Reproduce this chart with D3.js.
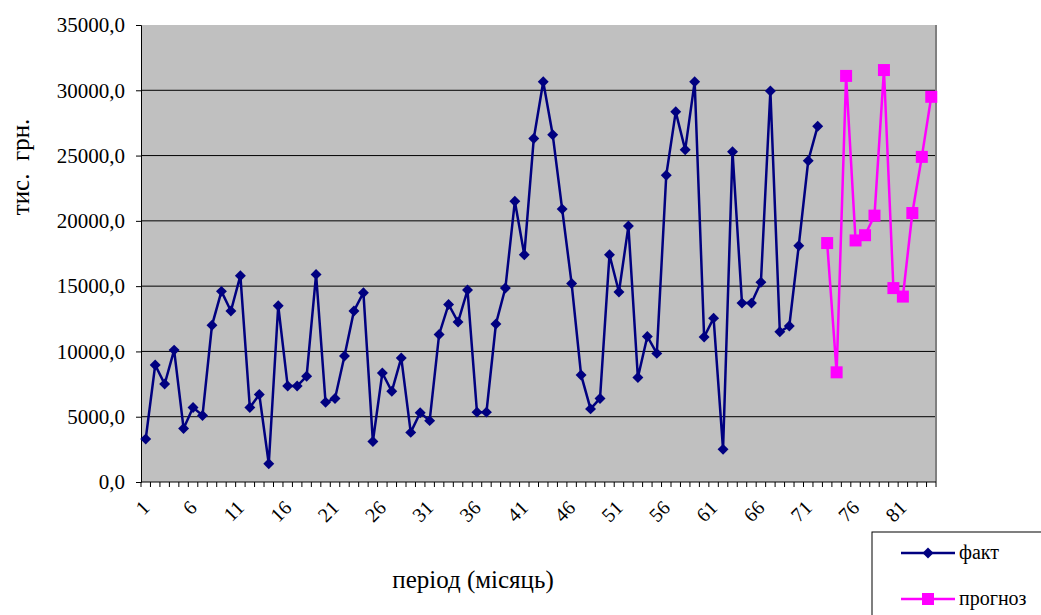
<!DOCTYPE html>
<html>
<head>
<meta charset="utf-8">
<script src="https://cdn.jsdelivr.net/npm/d3@7"></script>
<style>
  body { margin: 0; background: #fff; }
</style>
</head>
<body>
<div id="chart"></div>
<script>
// Data
const factValues = [
  3300, 8960, 7500, 10100, 4100, 5700, 5100, 12000, 14600, 13100,
  15800, 5700, 6700, 1400, 13500, 7350, 7350, 8100, 15900, 6100,
  6400, 9650, 13100, 14500, 3100, 8350, 6950, 9500, 3800, 5300,
  4700, 11300, 13600, 12250, 14700, 5350, 5350, 12100, 14850, 21500,
  17400, 26300, 30650, 26600, 20900, 15200, 8200, 5600, 6400, 17400,
  14550, 19600, 8000, 11150, 9850, 23500, 28350, 25450, 30650, 11100,
  12550, 2500, 25300, 13700, 13700, 15300, 29950, 11500, 11950, 18100,
  24600, 27250
];
const forecastValues = [
  18300, 8400, 31100, 18500, 18900, 20400, 31550, 14850, 14200, 20600,
  24900, 29500
];
const periods = d3.range(1, 85);
const tickLabels = [1, 6, 11, 16, 21, 26, 31, 36, 41, 46, 51, 56, 61, 66, 71, 76, 81];
const yTicks = [0, 5000, 10000, 15000, 20000, 25000, 30000, 35000];

const fact = factValues.map((v, i) => ({ period: i + 1, value: v }));
const forecast = forecastValues.map((v, i) => ({ period: factValues.length + i + 1, value: v }));

const width = 1041, height = 615;
const margin = { top: 25, right: 105, bottom: 133, left: 141 };
const chartWidth = width - margin.left - margin.right;
const chartHeight = height - margin.top - margin.bottom;
const serif = "\"Liberation Serif\"";

const svg = d3.select("#chart").append("svg")
  .attr("width", width)
  .attr("height", height);

const g = svg.append("g")
  .attr("transform", `translate(${margin.left},${margin.top})`);

// Scales
const x = d3.scaleBand().domain(periods).range([0, chartWidth]);
const y = d3.scaleLinear().domain([0, 35000]).range([chartHeight, 0]);
const cx = d => x(d.period) + x.bandwidth() / 2;

// Plot background
g.append("rect")
  .attr("width", chartWidth)
  .attr("height", chartHeight)
  .attr("fill", "#c0c0c0");

// Gridlines
g.selectAll(".grid")
  .data(yTicks.filter(t => t > 0 && t < 35000))
  .enter().append("line")
  .attr("x1", 0).attr("x2", chartWidth)
  .attr("y1", d => y(d)).attr("y2", d => y(d))
  .attr("stroke", "#000").attr("stroke-width", 1);

// Right border
g.append("line")
  .attr("x1", chartWidth).attr("x2", chartWidth)
  .attr("y1", 0).attr("y2", chartHeight)
  .attr("stroke", "#808080").attr("stroke-width", 2);

// Y axis
const yAxis = g.append("g")
  .call(d3.axisLeft(y).tickValues(yTicks).tickSize(5).tickPadding(11)
    .tickFormat(d => d3.format(".1f")(d).replace(".", ",")));
yAxis.select(".domain").attr("stroke", "#000");
yAxis.selectAll("text")
  .style("font-family", serif)
  .style("font-size", "21px")
  .attr("fill", "#000");

// X axis: ticks at category boundaries
const xAxis = g.append("g").attr("transform", `translate(0,${chartHeight})`);
xAxis.append("line")
  .attr("x1", 0).attr("x2", chartWidth)
  .attr("stroke", "#000");
xAxis.selectAll(".tk")
  .data(d3.range(0, periods.length + 1))
  .enter().append("line")
  .attr("x1", i => i * x.step()).attr("x2", i => i * x.step())
  .attr("y1", 0).attr("y2", 5)
  .attr("stroke", "#000");
xAxis.selectAll(".lbl")
  .data(tickLabels)
  .enter().append("text")
  .attr("transform", d => `translate(${x(d) + x.bandwidth() / 2 + 5},${27}) rotate(-45)`)
  .attr("text-anchor", "end")
  .style("font-family", serif)
  .style("font-size", "20px")
  .text(d => d);

// Lines
const line = d3.line().x(cx).y(d => y(d.value));

g.append("path").datum(fact)
  .attr("d", line)
  .attr("fill", "none")
  .attr("stroke", "#000080")
  .attr("stroke-width", 2.5);

g.append("path").datum(forecast)
  .attr("d", line)
  .attr("fill", "none")
  .attr("stroke", "#ff00ff")
  .attr("stroke-width", 2.5);

// Markers
const diamond = d3.symbol().type(d3.symbolSquare).size(60);
g.selectAll(".fact-pt")
  .data(fact)
  .enter().append("path")
  .attr("d", diamond)
  .attr("transform", d => `translate(${cx(d)},${y(d.value)}) rotate(45)`)
  .attr("fill", "#000080");

g.selectAll(".fc-pt")
  .data(forecast)
  .enter().append("rect")
  .attr("x", d => cx(d) - 6)
  .attr("y", d => y(d.value) - 6)
  .attr("width", 12).attr("height", 12)
  .attr("fill", "#ff00ff");

// Axis titles
svg.append("text")
  .attr("transform", "translate(29,167) rotate(-90)")
  .attr("text-anchor", "middle")
  .style("font-family", serif)
  .style("font-size", "25px")
  .style("white-space", "pre")
  .text("тис.  грн.");

svg.append("text")
  .attr("x", 473)
  .attr("y", 588)
  .attr("text-anchor", "middle")
  .style("font-family", serif)
  .style("font-size", "25px")
  .text("період (місяць)");

// Legend
const legend = svg.append("g").attr("transform", "translate(872,532)");
legend.append("rect")
  .attr("width", 200).attr("height", 120)
  .attr("fill", "#fff").attr("stroke", "#000");

const legendItems = [
  { label: "факт", color: "#000080", shape: "diamond", y: 21 },
  { label: "прогноз", color: "#ff00ff", shape: "square", y: 67 }
];
legendItems.forEach(it => {
  legend.append("line")
    .attr("x1", 29).attr("x2", 83)
    .attr("y1", it.y).attr("y2", it.y)
    .attr("stroke", it.color).attr("stroke-width", 2.5);
  if (it.shape === "diamond") {
    legend.append("path")
      .attr("d", diamond)
      .attr("transform", `translate(56,${it.y}) rotate(45)`)
      .attr("fill", it.color);
  } else {
    legend.append("rect")
      .attr("x", 50).attr("y", it.y - 6)
      .attr("width", 12).attr("height", 12)
      .attr("fill", it.color);
  }
  legend.append("text")
    .attr("x", 87).attr("y", it.y + 6)
    .style("font-family", serif)
    .style("font-size", "20px")
    .text(it.label);
});
</script>
</body>
</html>
